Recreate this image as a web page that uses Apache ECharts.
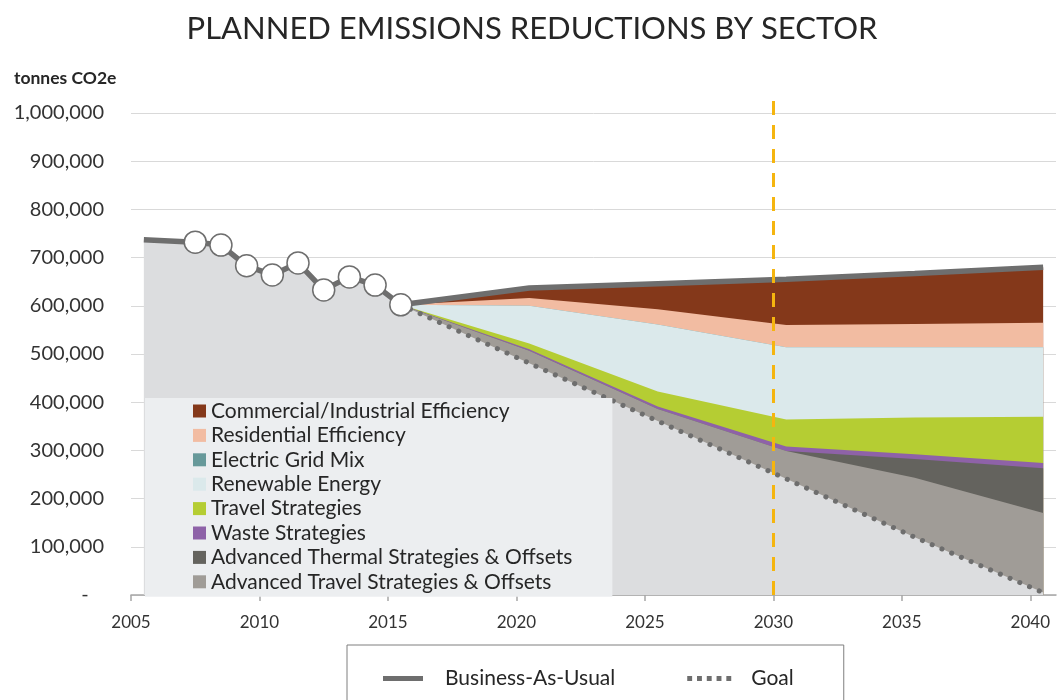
<!DOCTYPE html>
<html><head><meta charset="utf-8">
<script src="https://cdn.jsdelivr.net/npm/echarts@6/dist/echarts.min.js"></script>
<style>html,body{margin:0;padding:0;background:#fff}#c{width:1064px;height:700px}</style>
</head><body><div id="c"></div>
<script>
// ---------- data ----------
const histYears  = [2005, 2007, 2008, 2009, 2010, 2011, 2012, 2013, 2014, 2015];
const histValues = [737000, 732000, 726000, 683000, 664000, 689000, 633000, 660000, 643000, 602000];
const projYears     = [2015, 2020, 2025, 2030, 2035, 2040];
const bauProjection = [602000, 637000, 646000, 655000, 667000, 680000];
const goalValues    = [602000, 481000, 361000, 241000, 120000, 5000];
const advTravel   = [0, 26000, 25000, 58000, 123000, 165000];
const advThermal  = [0, 0, 0, 0, 39000, 93000];
const waste       = [0, 3000, 5000, 9000, 10000, 11000];
const travel      = [0, 12000, 31000, 56000, 76000, 96000];
const renewable   = [0, 78000, 139000, 150000, 146000, 144000];
const gridMix     = [0, 0, 0, 0, 0, 0];
const residential = [0, 16000, 32000, 46000, 48000, 51000];
const commercial  = [0, 21000, 53000, 95000, 105000, 115000];
const xTickLabels = [2005, 2010, 2015, 2020, 2025, 2030, 2035, 2040];
const targetYear = 2030;

// ---------- styling ----------
const FONT = 'Lato';
const TXT = '#262626';
const LINE_GRAY = '#6e6e6e';
const layers = [   // bottom -> top
  { name: 'Advanced Travel Strategies & Offsets', values: advTravel, color: '#a09c97' },
  { name: 'Advanced Thermal Strategies & Offsets', values: advThermal, color: '#64635e' },
  { name: 'Waste Strategies', values: waste, color: '#8e62a8' },
  { name: 'Travel Strategies', values: travel, color: '#b5cd33' },
  { name: 'Renewable Energy', values: renewable, color: '#dbe9eb' },
  { name: 'Electric Grid Mix', values: gridMix, color: '#67999a' },
  { name: 'Residential Efficiency', values: residential, color: '#f2bca2' },
  { name: 'Commercial/Industrial Efficiency', values: commercial, color: '#84381a' }
];

const pair = (xs, ys) => xs.map((x, i) => [x, ys[i]]);
const histData = pair(histYears, histValues);
const goalData = pair(projYears, goalValues);
const bauData = histData.concat(pair(projYears, bauProjection).slice(1));
const baseData = histData.concat(goalData.slice(1));

// cumulative tops of the stacked reductions, sitting on the goal line
let running = goalValues.slice();
const tops = layers.map(l => {
  running = running.map((v, i) => v + l.values[i]);
  return running.slice();
});

const series = [];
// draw from the top layer down so each lower band covers the one above it
for (let k = layers.length - 1; k >= 0; k--) {
  const l = layers[k];
  series.push({
    type: 'line', name: l.name, xAxisIndex: 1, data: pair(projYears, tops[k]),
    symbol: 'none', color: l.color, lineStyle: { width: 0 }, areaStyle: { color: l.color, opacity: 1 },
    silent: true, z: 2 + (layers.length - 1 - k)
  });
}
series.push(
  { type: 'line', name: 'baseline', xAxisIndex: 1, data: baseData,
    symbol: 'none', lineStyle: { width: 0 }, areaStyle: { color: '#dcdddf', opacity: 1 }, silent: true, z: 11 },
  { type: 'line', name: 'Goal', xAxisIndex: 1, data: goalData, symbol: 'none', color: LINE_GRAY,
    lineStyle: { color: LINE_GRAY, width: 5, type: [0.1, 10.5], cap: 'round' }, silent: true, z: 12 },
  { type: 'line', name: 'Business-As-Usual', xAxisIndex: 1, data: bauData, symbol: 'none', color: LINE_GRAY,
    lineStyle: { color: LINE_GRAY, width: 5.5 }, silent: true, z: 13 },
  { type: 'scatter', name: 'history-points', xAxisIndex: 1, data: histData.slice(1), symbol: 'circle', symbolSize: 22,
    itemStyle: { color: '#ffffff', borderColor: LINE_GRAY, borderWidth: 1.5, opacity: 1 }, silent: true, z: 14 },
  { type: 'line', name: 'target', xAxisIndex: 2, yAxisIndex: 1, data: [[targetYear, 0]], symbol: 'none',
    lineStyle: { width: 0 }, silent: true, z: 15,
    markLine: { silent: true, z: 30, symbol: 'none', label: { show: false },
      lineStyle: { color: '#f5b50f', width: 3, type: [14, 10] },
      data: [{ xAxis: targetYear }] } }
);

const chart = echarts.init(document.getElementById('c'));
chart.setOption({
  animation: false,
  backgroundColor: '#ffffff',
  textStyle: { fontFamily: FONT },
  title: [
    { text: 'PLANNED EMISSIONS REDUCTIONS BY SECTOR', left: 'center', top: 8,
      textStyle: { fontFamily: FONT, fontSize: 31, fontWeight: 'normal', color: TXT } },
    { text: 'tonnes CO2e', left: 9, top: 64,
      textStyle: { fontFamily: FONT, fontSize: 17.5, fontWeight: 'bold', color: TXT } }
  ],
  grid: [
    { left: 131, right: 8, top: 113, bottom: 105 },
    { left: 131, right: 8, top: 98, bottom: 105 }
  ],
  xAxis: [
    { type: 'value', gridIndex: 0, min: 2005, max: 2041,
      axisLine: { show: true, lineStyle: { color: '#a6a6a6', width: 1.5 } },
      axisTick: { show: true, length: 6, customValues: xTickLabels, lineStyle: { color: '#a6a6a6', width: 1.5 } },
      axisLabel: { customValues: xTickLabels, formatter: v => String(v), fontFamily: FONT, fontSize: 17, color: '#333333', margin: 19 },
      splitLine: { show: false } },
    { type: 'value', gridIndex: 0, min: 2004.5, max: 2040.5, show: false },
    { type: 'value', gridIndex: 1, min: 2005, max: 2041, show: false }
  ],
  yAxis: [
    { type: 'value', gridIndex: 0, min: 0, max: 1000000, interval: 100000,
      axisLine: { show: false }, axisTick: { show: false },
      axisLabel: { formatter: v => v === 0 ? '-   ' : v.toLocaleString('en-US'), fontFamily: FONT, fontSize: 20, color: '#333333', margin: 27 },
      splitLine: { lineStyle: { color: '#d9d9d9', width: 1 } } },
    { type: 'value', gridIndex: 1, min: 0, max: 1, show: false }
  ],
  legend: [
    { data: layers.map(l => l.name).reverse(), orient: 'vertical', left: 145, top: 398, z: 20,
      backgroundColor: '#eceef0', padding: [2, 40, 4, 48], icon: 'rect', itemWidth: 13, itemHeight: 13, itemGap: 2.4,
      selectedMode: false, textStyle: { fontFamily: FONT, fontSize: 21, color: TXT, lineHeight: 22 } },
    { data: [
        { name: 'Business-As-Usual', icon: 'path://M0,0h40v5h-40z' },
        { name: 'Goal', icon: 'path://M0,0h5v5h-5z M10,0h5v5h-5z M20,0h5v5h-5z M30,0h5v5h-5z M40,0h5v5h-5z' }
      ],
      orient: 'horizontal', left: 347, top: 645, borderColor: '#7f7f7f', borderWidth: 1, z: 20,
      padding: [23, 50, 40, 36], itemWidth: 44, itemHeight: 5, itemGap: 72, selectedMode: false,
      itemStyle: { color: LINE_GRAY },
      textStyle: { fontFamily: FONT, fontSize: 21, color: TXT, lineHeight: 20, padding: [0, 0, 0, 15] } }
  ],
  series: series
});
</script></body></html>
